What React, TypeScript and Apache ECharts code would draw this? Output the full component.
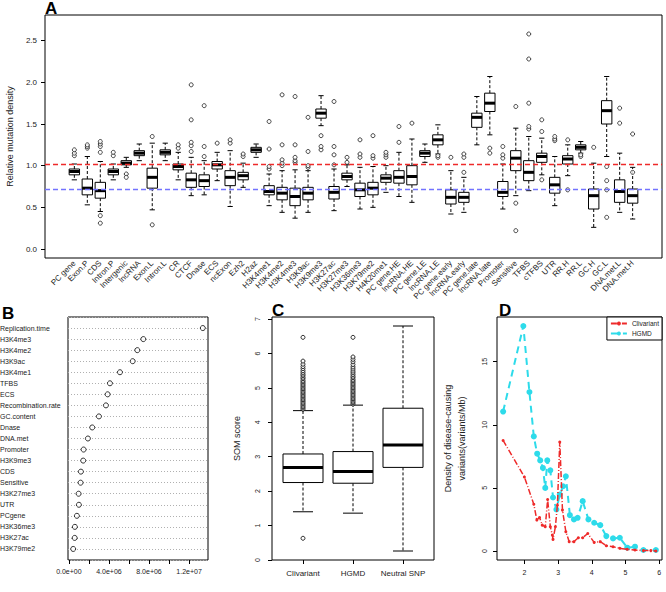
import React, { useEffect, useRef } from 'react';
import * as echarts from 'echarts';

// ---------------- Panel A ----------------
const A_CATEGORIES = [
  'PC gene', 'Exon.P', 'CDS', 'Intron.P', 'Intergenic', 'lncRNA', 'Exon.L', 'Intron.L', 'CR', 'CTCF',
  'Dnase', 'ECS', 'ncExon', 'Ezh2', 'H2az', 'H3K4me1', 'H3K4me2', 'H3K4me3', 'H3K9ac', 'H3K9me3',
  'H3K27ac', 'H3K27me3', 'H3K36me3', 'H3K79me2', 'H4K20me1', 'PC gene.HE', 'lncRNA.HE', 'PC gene.LE', 'lncRNA.LE', 'PC gene.early',
  'lncRNA.early', 'PC gene.late', 'lncRNA.late', 'Promoter', 'Sensitive', 'TFBS', 'cTFBS', 'UTR', 'RR.H', 'RR.L',
  'GC.H', 'GC.L', 'DNA.met.L', 'DNA.met.H',
];
const A_LOW = [0.83, 0.53, 0.45, 0.83, 0.98, 1.06, 0.47, 1.06, 0.83, 0.64, 0.65, 0.82, 0.51, 0.74, 1.10, 0.52, 0.44, 0.37, 0.44, 1.48, 0.46, 0.75, 0.48, 0.50, 0.68, 0.63, 0.56, 1.04, 1.14, 0.42, 0.44, 1.25, 1.37, 0.48, 0.64, 0.70, 0.89, 0.52, 0.88, 1.15, 0.26, 1.11, 0.44, 0.36];
const A_Q1 = [0.89, 0.65, 0.61, 0.89, 1.01, 1.12, 0.73, 1.13, 0.95, 0.74, 0.75, 0.96, 0.76, 0.83, 1.16, 0.65, 0.59, 0.52, 0.59, 1.57, 0.60, 0.83, 0.63, 0.65, 0.80, 0.79, 0.77, 1.11, 1.25, 0.54, 0.56, 1.46, 1.65, 0.63, 0.94, 0.82, 1.04, 0.67, 1.02, 1.19, 0.48, 1.50, 0.56, 0.55];
const A_MED = [0.93, 0.73, 0.70, 0.93, 1.03, 1.15, 0.86, 1.16, 0.99, 0.83, 0.82, 1.01, 0.86, 0.88, 1.19, 0.69, 0.67, 0.63, 0.67, 1.63, 0.68, 0.87, 0.71, 0.73, 0.85, 0.86, 0.87, 1.15, 1.31, 0.62, 0.62, 1.58, 1.75, 0.68, 1.09, 0.92, 1.11, 0.77, 1.08, 1.22, 0.64, 1.66, 0.69, 0.64];
const A_Q3 = [0.96, 0.84, 0.80, 0.96, 1.06, 1.18, 0.97, 1.19, 1.02, 0.91, 0.89, 1.05, 0.94, 0.92, 1.22, 0.76, 0.74, 0.73, 0.74, 1.68, 0.75, 0.91, 0.79, 0.80, 0.89, 0.94, 1.00, 1.18, 1.37, 0.71, 0.68, 1.63, 1.87, 0.81, 1.18, 1.06, 1.15, 0.86, 1.12, 1.25, 0.72, 1.78, 0.83, 0.72];
const A_HIGH = [1.02, 1.11, 1.05, 1.02, 1.10, 1.26, 1.27, 1.27, 1.16, 1.10, 1.06, 1.16, 1.18, 1.03, 1.26, 0.90, 0.94, 0.95, 0.94, 1.84, 0.96, 1.01, 0.98, 0.99, 1.00, 1.16, 1.32, 1.26, 1.49, 0.94, 0.86, 1.83, 2.07, 1.02, 1.45, 1.35, 1.33, 1.11, 1.25, 1.29, 1.03, 2.07, 1.15, 0.98];
const A_OUTLIERS: number[][] = [
  [1.12, 1.15, 1.19], [1.21, 1.23, 1.25], [1.16, 1.23, 1.26, 1.29, 0.40, 0.31], [1.12, 1.16], [0.90, 0.86],
  [], [1.35, 0.29], [], [1.21, 1.25], [1.17, 1.24, 1.28, 1.55, 1.97],
  [1.11, 1.23, 1.72], [1.27], [1.27, 1.31], [1.11, 1.14], [],
  [0.96, 0.99, 1.20, 1.53], [1.00, 1.03, 1.07, 1.25, 1.85], [1.04, 1.06, 1.10, 1.25, 1.83], [0.98, 1.00, 1.17, 1.58], [1.19, 1.23, 1.36],
  [1.01, 1.13, 1.23, 1.77], [1.04, 1.10], [1.10, 1.14, 1.31], [1.09, 1.12, 1.36], [1.10, 1.13, 1.16],
  [1.28, 1.47], [1.51], [], [1.10, 1.12], [1.10],
  [0.92, 1.10, 1.14], [], [1.15, 1.21], [1.09, 1.13, 1.23], [0.22, 0.55, 1.71],
  [1.44, 1.47, 1.75, 2.28, 2.58], [0.83, 1.41, 1.55], [1.30, 1.32, 1.35], [0.71, 1.31], [1.11, 1.13],
  [1.22], [0.38, 0.71, 0.82, 0.99], [1.51, 1.69], [0.92, 1.38],
];
const A_YLIM = [0, 2.7];
const A_YTICKS = [0, 0.5, 1.0, 1.5, 2.0, 2.5];
const A_REF_RED = 1.02;
const A_REF_BLUE = 0.72;

// ---------------- Panel B ----------------
const B_LABELS = [
  'Replication.time', 'H3K4me3', 'H3K4me2', 'H3K9ac', 'H3K4me1', 'TFBS', 'ECS', 'Recombination.rate',
  'GC.content', 'Dnase', 'DNA.met', 'Promoter', 'H3K9me3', 'CDS', 'Sensitive', 'H3K27me3', 'UTR',
  'PCgene', 'H3K36me3', 'H3K27ac', 'H3K79me2',
];
const B_VALUES = [
  13370000, 7430000, 6830000, 6370000, 5100000, 4100000, 3870000, 3700000,
  3000000, 2330000, 1900000, 1470000, 1430000, 1200000, 1170000, 970000, 1000000,
  800000, 600000, 580000, 430000,
];
const B_XTICKS = [0, 2e6, 4e6, 6e6, 8e6, 10e6, 12e6];
const B_XLABELS = [0, 4e6, 8e6, 12e6];

// ---------------- Panel C ----------------
const C_CATEGORIES = ['Clivariant', 'HGMD', 'Neutral SNP'];
const C_LOW = [1.40, 1.36, 0.26];
const C_Q1 = [2.25, 2.23, 2.69];
const C_MED = [2.69, 2.57, 3.34];
const C_Q3 = [3.08, 3.15, 4.41];
const C_HIGH = [4.34, 4.50, 6.80];
const C_OUTLIERS: number[][] = [
  [0.63, 4.38, 4.42, 4.46, 4.50, 4.54, 4.58, 4.62, 4.66, 4.70, 4.74, 4.78, 4.82, 4.86, 4.90, 4.94, 4.98,
    5.02, 5.06, 5.10, 5.14, 5.18, 5.22, 5.27, 5.31, 5.36, 5.40, 5.45, 5.50, 5.56, 5.62, 5.69, 5.78, 6.47],
  [4.53, 4.57, 4.61, 4.65, 4.69, 4.73, 4.77, 4.81, 4.85, 4.89, 4.93, 4.97, 5.01, 5.05, 5.09, 5.13, 5.17,
    5.21, 5.25, 5.30, 5.34, 5.39, 5.44, 5.49, 5.55, 5.61, 5.68, 5.76, 5.83, 5.90, 6.47],
  [],
];
const C_YTICKS = [0, 1, 2, 3, 4, 5, 6, 7];

// ---------------- Panel D ----------------
const D_CLIV_X = [1.37, 2.0, 2.28, 2.37, 2.45, 2.53, 2.62, 2.69, 2.77, 2.83, 2.85, 2.92, 2.98, 3.05, 3.13, 3.23, 3.33, 3.47, 3.60, 3.73, 3.88, 4.07, 4.25, 4.43, 4.63, 4.83, 5.05, 5.28, 5.53, 5.75, 5.90];
const D_CLIV_Y = [8.76, 5.87, 3.71, 2.45, 2.66, 2.05, 1.92, 4.08, 1.92, 1.26, 0.92, 1.92, 3.63, 8.63, 3.24, 1.53, 0.74, 0.74, 1.05, 1.05, 1.39, 0.68, 0.74, 0.42, 0.34, 0.21, 0.13, 0.08, 0.03, 0.03, 0.0];
const D_HGMD_X = [1.37, 1.97, 2.15, 2.28, 2.38, 2.47, 2.55, 2.62, 2.68, 2.77, 2.85, 2.95, 3.05, 3.15, 3.23, 3.35, 3.47, 3.58, 3.73, 3.90, 4.07, 4.25, 4.43, 4.63, 4.83, 5.05, 5.28, 5.53, 5.90];
const D_HGMD_Y = [11.05, 17.83, 12.6, 9.08, 7.71, 7.18, 6.58, 5.0, 7.18, 6.39, 4.24, 3.29, 4.47, 5.13, 5.92, 2.84, 2.5, 2.63, 3.95, 2.5, 2.24, 2.05, 1.18, 1.0, 1.05, 0.26, 0.34, 0.08, 0.08];
const D_XTICKS = [2, 3, 4, 5, 6];
const D_YTICKS = [0, 5, 10, 15];

// ---------------- helpers ----------------
const FONT = 'Liberation Sans, Arial, Helvetica, sans-serif';
const TXT = '#222';
const RED = '#ee2a2a';
const BLUE = '#7373ff';
const CYAN = '#2ddbea';

function rRange(min: number, max: number): [number, number] {
  const d = (max - min) * 0.04;
  return [min - d, max + d];
}

function sci(v: number): string {
  if (v === 0) return '0.0e+00';
  const [m, e] = v.toExponential(1).split('e');
  const sign = e[0] === '-' ? '-' : '+';
  const d = e.replace(/[+-]/, '').padStart(2, '0');
  return `${m}e${sign}${d}`;
}

function boxRenderer(boxW: number) {
  return (params: any, api: any) => {
    const x = api.value(0);
    const low = api.coord([x, api.value(1)]);
    const q1 = api.coord([x, api.value(2)]);
    const med = api.coord([x, api.value(3)]);
    const q3 = api.coord([x, api.value(4)]);
    const high = api.coord([x, api.value(5)]);
    const w = api.size([boxW, 0])[0];
    const hw = w / 2;
    const px = q1[0];
    const st = { stroke: '#000', lineWidth: 1 };
    return {
      type: 'group',
      children: [
        { type: 'line', shape: { x1: px, y1: q3[1], x2: px, y2: high[1] }, style: { ...st, lineDash: [3, 2] } },
        { type: 'line', shape: { x1: px, y1: q1[1], x2: px, y2: low[1] }, style: { ...st, lineDash: [3, 2] } },
        { type: 'line', shape: { x1: px - hw / 2, y1: high[1], x2: px + hw / 2, y2: high[1] }, style: st },
        { type: 'line', shape: { x1: px - hw / 2, y1: low[1], x2: px + hw / 2, y2: low[1] }, style: st },
        { type: 'rect', shape: { x: px - hw, y: q3[1], width: w, height: q1[1] - q3[1] }, style: { fill: '#fff', stroke: '#000', lineWidth: 1 } },
        { type: 'line', shape: { x1: px - hw, y1: med[1], x2: px + hw, y2: med[1] }, style: { stroke: '#000', lineWidth: 3 } },
      ],
    };
  };
}

const noLine = { show: false, onZero: false };
const tick = (vals: number[]) => ({ show: true, customValues: vals, length: 4, inside: false, lineStyle: { color: '#000', width: 1 } });

function buildOption(): any {
  // Panel A
  const aX = rRange(0.5, A_CATEGORIES.length + 0.5);
  const aY = rRange(A_YLIM[0], A_YLIM[1]);
  const aBoxes = A_CATEGORIES.map((_, i) => [i + 1, A_LOW[i], A_Q1[i], A_MED[i], A_Q3[i], A_HIGH[i]]);
  const aOut: number[][] = [];
  A_OUTLIERS.forEach((arr, i) => arr.forEach((v) => aOut.push([i + 1, v])));

  // Panel B
  const bX = rRange(Math.min(...B_VALUES), Math.max(...B_VALUES));
  const bCats = ['', ...B_LABELS.slice().reverse(), ''];
  const bData = B_VALUES.slice().reverse().map((v, i) => [v, i + 1]);

  // Panel C
  const cX = rRange(0.5, C_CATEGORIES.length + 0.5);
  const cAll = [...C_LOW, ...C_HIGH, ...C_OUTLIERS.flat()];
  const cY = rRange(Math.min(...cAll), Math.max(...cAll));
  const cBoxes = C_CATEGORIES.map((_, i) => [i + 1, C_LOW[i], C_Q1[i], C_MED[i], C_Q3[i], C_HIGH[i]]);
  const cOut: number[][] = [];
  C_OUTLIERS.forEach((arr, i) => arr.forEach((v) => cOut.push([i + 1, v])));

  // Panel D
  const dAllX = [...D_CLIV_X, ...D_HGMD_X];
  const dAllY = [...D_CLIV_Y, ...D_HGMD_Y];
  const dX = rRange(Math.min(...dAllX), Math.max(...dAllX));
  const dY = rRange(Math.min(...dAllY), Math.max(...dAllY));

  const frame = { show: true, borderColor: '#000', borderWidth: 1, backgroundColor: 'transparent', outerBoundsMode: 'none', containLabel: false };
  const lab = (extra: any) => ({ color: TXT, fontFamily: FONT, ...extra });

  return {
    animation: false,
    backgroundColor: '#fff',
    textStyle: { fontFamily: FONT, color: TXT },
    grid: [
      { ...frame, left: 45, top: 15, width: 617, height: 243 },
      { ...frame, left: 68, top: 317, width: 140, height: 243 },
      { ...frame, left: 272, top: 317, width: 162, height: 243 },
      { ...frame, left: 497, top: 317, width: 165, height: 243 },
    ],
    xAxis: [
      {
        type: 'value', gridIndex: 0, min: aX[0], max: aX[1], axisLine: noLine, splitLine: { show: false },
        axisTick: { show: false },
        axisLabel: lab({
          customValues: A_CATEGORIES.map((_, i) => i + 1),
          formatter: (v: number) => A_CATEGORIES[Math.round(v) - 1] ?? '',
          rotate: 45, fontSize: 8, margin: 4,
        }),
      },
      {
        type: 'value', gridIndex: 1, min: bX[0], max: bX[1], axisLine: noLine, splitLine: { show: false },
        axisTick: tick(B_XTICKS),
        axisLabel: lab({ customValues: B_XLABELS, formatter: (v: number) => sci(v), fontSize: 7, margin: 8 }),
      },
      {
        type: 'value', gridIndex: 2, min: cX[0], max: cX[1], axisLine: noLine, splitLine: { show: false },
        axisTick: tick([1, 2, 3]),
        axisLabel: lab({ customValues: [1, 2, 3], formatter: (v: number) => C_CATEGORIES[Math.round(v) - 1] ?? '', fontSize: 8, margin: 9 }),
      },
      {
        type: 'value', gridIndex: 3, min: dX[0], max: dX[1], axisLine: noLine, splitLine: { show: false },
        axisTick: tick(D_XTICKS),
        axisLabel: lab({ customValues: D_XTICKS, formatter: (v: number) => String(v), fontSize: 7, margin: 9 }),
      },
    ],
    yAxis: [
      {
        type: 'value', gridIndex: 0, min: aY[0], max: aY[1], axisLine: noLine, splitLine: { show: false },
        axisTick: tick(A_YTICKS),
        axisLabel: lab({ customValues: A_YTICKS, formatter: (v: number) => v.toFixed(1), fontSize: 8, margin: 8 }),
        name: 'Relative mutation density', nameLocation: 'middle', nameGap: 27,
        nameTextStyle: { fontSize: 9, color: TXT, fontFamily: FONT },
      },
      {
        type: 'category', gridIndex: 1, data: bCats, boundaryGap: false, axisLine: noLine,
        axisTick: { show: false },
        splitLine: { show: true, interval: 0, lineStyle: { type: [1, 2], color: '#b0b0b0', width: 1 } },
        axisLabel: lab({ interval: 0, align: 'left', margin: 68, fontSize: 7 }),
      },
      {
        type: 'value', gridIndex: 2, min: cY[0], max: cY[1], axisLine: noLine, splitLine: { show: false },
        axisTick: tick(C_YTICKS),
        axisLabel: lab({ customValues: C_YTICKS, formatter: (v: number) => String(v), rotate: 90, fontSize: 7, margin: 11 }),
        name: 'SOM score', nameLocation: 'middle', nameGap: 31,
        nameTextStyle: { fontSize: 9, color: TXT, fontFamily: FONT },
      },
      {
        type: 'value', gridIndex: 3, min: dY[0], max: dY[1], axisLine: noLine, splitLine: { show: false },
        axisTick: tick(D_YTICKS),
        axisLabel: lab({ customValues: D_YTICKS, formatter: (v: number) => String(v), rotate: 90, fontSize: 7, margin: 9 }),
        name: 'Density of disease-causing\nvariants(variants/Mb)', nameLocation: 'middle', nameGap: 28,
        nameTextStyle: { fontSize: 9, color: TXT, fontFamily: FONT, lineHeight: 14 },
      },
    ],
    legend: {
      data: ['Clivariant', 'HGMD'], orient: 'vertical', right: 4, top: 317,
      backgroundColor: '#fff', borderColor: '#000', borderWidth: 1, borderRadius: 0,
      padding: [3, 3, 3, 3], itemGap: 3, itemWidth: 16, itemHeight: 5,
      textStyle: { fontSize: 6.5, color: TXT, fontFamily: FONT },
    },
    graphic: [
      { type: 'text', left: 45, top: 0, style: { text: 'A', font: `bold 17px ${FONT}`, fill: '#000' } },
      { type: 'text', left: 2, top: 305, style: { text: 'B', font: `bold 17px ${FONT}`, fill: '#000' } },
      { type: 'text', left: 272, top: 302, style: { text: 'C', font: `bold 17px ${FONT}`, fill: '#000' } },
      { type: 'text', left: 499, top: 302, style: { text: 'D', font: `bold 17px ${FONT}`, fill: '#000' } },
    ],
    series: [
      {
        type: 'custom', name: 'A boxes', xAxisIndex: 0, yAxisIndex: 0, data: aBoxes,
        encode: { x: 0, y: [1, 2, 3, 4, 5] }, renderItem: boxRenderer(0.8), z: 2,
      },
      {
        type: 'scatter', name: 'A outliers', xAxisIndex: 0, yAxisIndex: 0, data: aOut, symbol: 'circle', symbolSize: 4,
        itemStyle: { color: '#fff', borderColor: '#000', borderWidth: 0.9 }, z: 3,
        markLine: {
          silent: true, symbol: ['none', 'none'], z: 6,
          label: { show: false },
          emphasis: { disabled: true },
          data: [
            { name: 'red', yAxis: A_REF_RED, lineStyle: { color: RED, type: [5, 3], width: 1.3, opacity: 1 } },
            { name: 'blue', yAxis: A_REF_BLUE, lineStyle: { color: BLUE, type: [5, 3], width: 1.3, opacity: 1 } },
          ],
        },
      },
      {
        type: 'scatter', name: 'B dots', xAxisIndex: 1, yAxisIndex: 1, data: bData, symbol: 'circle', symbolSize: 5,
        itemStyle: { color: '#fff', borderColor: '#000', borderWidth: 1 }, z: 3,
      },
      {
        type: 'custom', name: 'C boxes', xAxisIndex: 2, yAxisIndex: 2, data: cBoxes,
        encode: { x: 0, y: [1, 2, 3, 4, 5] }, renderItem: boxRenderer(0.8), z: 2,
      },
      {
        type: 'scatter', name: 'C outliers', xAxisIndex: 2, yAxisIndex: 2, data: cOut, symbol: 'circle', symbolSize: 4,
        itemStyle: { color: '#fff', borderColor: '#000', borderWidth: 1 }, z: 3,
      },
      {
        type: 'line', name: 'Clivariant', xAxisIndex: 3, yAxisIndex: 3,
        data: D_CLIV_X.map((x, i) => [x, D_CLIV_Y[i]]), symbol: 'circle', symbolSize: 3, showSymbol: true,
        lineStyle: { color: RED, width: 1.5, type: [6, 2, 1, 2] }, itemStyle: { color: RED }, z: 4,
      },
      {
        type: 'line', name: 'HGMD', xAxisIndex: 3, yAxisIndex: 3,
        data: D_HGMD_X.map((x, i) => [x, D_HGMD_Y[i]]), symbol: 'circle', symbolSize: 6, showSymbol: true,
        lineStyle: { color: CYAN, width: 2, type: [7, 5] }, itemStyle: { color: CYAN }, z: 3,
      },
    ],
  };
}

export default function App() {
  const ref = useRef<HTMLDivElement>(null);
  useEffect(() => {
    if (!ref.current) return;
    const chart = echarts.init(ref.current, null, { renderer: 'svg' });
    chart.setOption(buildOption());
    return () => chart.dispose();
  }, []);
  return (
    <div
      ref={ref}
      style={{ position: 'fixed', left: 0, top: 0, width: 666, height: 592, background: '#fff' }}
    />
  );
}
